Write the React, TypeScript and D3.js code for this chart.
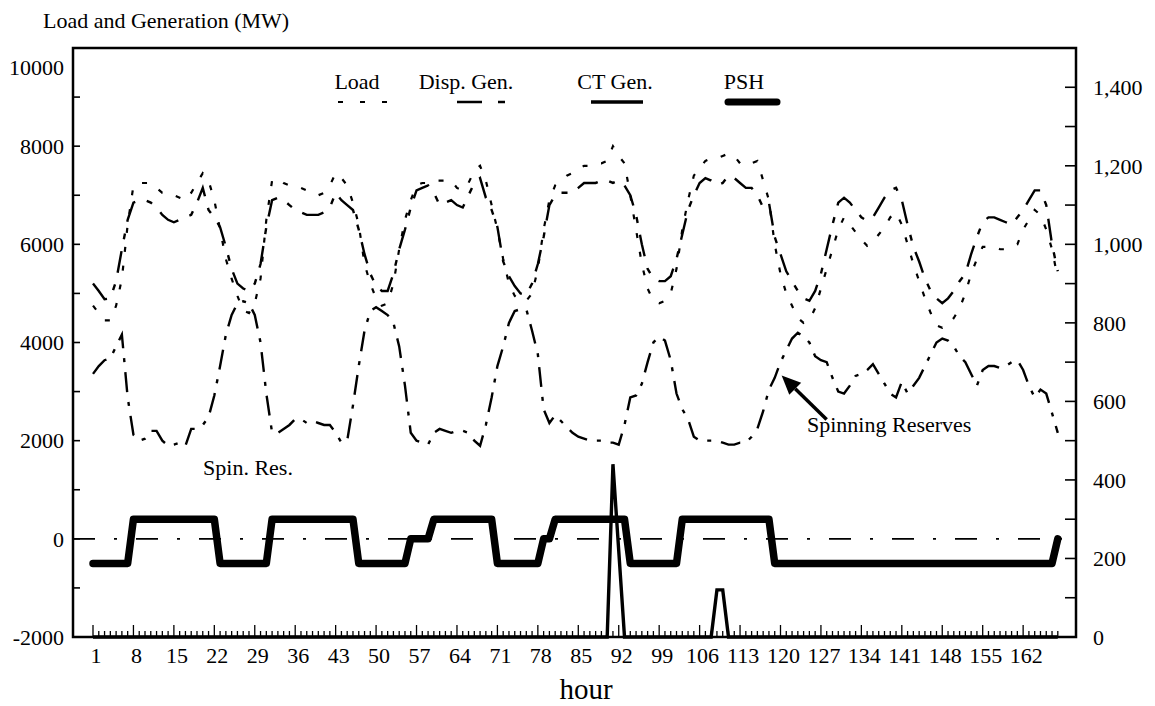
import React, { useEffect, useRef } from "react";
import * as d3 from "d3";

// Hourly series for one week (hours 1..168)
const hours: number[] = d3.range(1, 169);

// System load, MW (left axis)
const load: number[] = [
  4750, 4600, 4450, 4450, 4750, 5300, 6400, 7200, 7250, 7250, 7250, 7150, 7050, 7050, 7000, 6950, 6900, 7050, 7250, 7450, 7300, 6900, 6300, 5700,
  5300, 4950, 4650, 4600, 4800, 5300, 6500, 7300, 7350, 7250, 7200, 7150, 7150, 7100, 7050, 7000, 7050, 7200, 7450, 7350, 7200, 6850, 6400, 5600,
  5200, 4900, 4750, 4800, 5200, 5900, 6500, 6900, 7200, 7250, 7250, 7300, 7300, 7300, 7300, 7150, 7100, 7250, 7500, 7600, 7300, 6800, 6300, 5700,
  5200, 4950, 4850, 4850, 5000, 5500, 6300, 6900, 7200, 7300, 7400, 7450, 7550, 7600, 7600, 7650, 7650, 7700, 8000, 7800, 7650, 7000, 6300, 5600,
  5100, 4850, 4800, 4850, 5000, 5500, 6300, 6900, 7400, 7550, 7700, 7750, 7750, 7800, 7850, 7800, 7650, 7600, 7650, 7700, 7300, 6900, 6000, 5400,
  5000, 4750, 4500, 4400, 4450, 4700, 5100, 5500, 5900, 6300, 6550, 6400, 6250, 6100, 5970, 6050, 6200, 6350, 6550, 6650, 6400, 6000, 5600, 5250,
  4900, 4600, 4350, 4300, 4350, 4500, 4700, 5000, 5400, 5700, 5950, 5950, 5950, 5900, 5900, 5950, 6000, 6300, 6500, 6700, 6600, 6300, 5900, 5300,
];

// Dispatchable generation, MW (left axis)
const dispGen: number[] = [
  5200, 5050, 4880, 4900, 5250, 5900, 6500, 6850, 6900, 6900, 6850, 6750, 6600, 6500, 6450, 6500, 6550, 6600, 6850, 7150, 6700, 6550, 6350, 5950,
  5500, 5200, 5100, 5050, 5200, 5600, 6350, 6900, 6950, 6900, 6800, 6700, 6650, 6600, 6600, 6600, 6650, 6750, 7050, 6900, 6800, 6700, 6300, 5800,
  5400, 5150, 5050, 5050, 5400, 5900, 6300, 6750, 7100, 7150, 7200, 7050, 6800, 6850, 6900, 6800, 6750, 7000, 7250, 7350, 6950, 6700, 6350, 5650,
  5350, 5150, 5000, 4970, 5200, 5600, 6150, 6800, 7000, 7050, 7050, 7050, 7150, 7250, 7250, 7250, 7300, 7300, 7250, 7300, 7200, 7000, 6600, 6000,
  5500, 5300, 5250, 5250, 5350, 5700, 6200, 6700, 7000, 7250, 7350, 7300, 7200, 7250, 7400, 7350, 7250, 7150, 7150, 7000, 6750, 6850, 6150, 5800,
  5450, 5250, 5050, 4900, 4850, 5050, 5400, 5900, 6400, 6850, 6950, 6850, 6700, 6550, 6480, 6550, 6750, 6950, 7100, 7150, 6900, 6400, 5950, 5650,
  5300, 5050, 4900, 4800, 4900, 5050, 5250, 5400, 5800, 6150, 6450, 6550, 6550, 6500, 6450, 6400, 6550, 6700, 6900, 7100, 7100, 6800, 6000, 5450,
];

// Spinning reserves, MW (right axis)
const spinRes: number[] = [
  670, 690, 705, 710, 740, 770, 610, 515, 500, 505, 525, 525, 500, 487, 490, 495, 487, 530, 530, 540, 560, 615, 690, 770,
  820, 850, 855, 850, 820, 750, 620, 520, 520, 530, 540, 555, 555, 545, 550, 545, 540, 540, 520, 495, 500, 590, 690, 780,
  830, 840, 830, 820, 800, 740, 640, 520, 500, 495, 490, 520, 530, 525, 520, 525, 525, 520, 500, 487, 540, 610, 690, 740,
  800, 830, 835, 835, 780, 720, 580, 545, 565, 550, 535, 520, 510, 505, 500, 500, 500, 495, 495, 490, 540, 610, 615, 645,
  700, 750, 765, 755, 705, 620, 580, 555, 510, 500, 500, 500, 500, 495, 490, 490, 495, 495, 510, 530, 575, 630, 660, 700,
  730, 760, 775, 765, 750, 715, 705, 700, 660, 625, 620, 640, 665, 670, 680, 695, 670, 645, 620, 610, 650, 620, 640, 660,
  690, 720, 750, 760, 755, 740, 715, 700, 670, 640, 680, 690, 690, 685, 690, 700, 705, 680, 640, 610, 630, 620, 570, 520,
];

// Combustion-turbine generation, MW (right axis)
const ctGen: number[] = [
  0, 0, 0, 0, 0, 0, 0, 0, 0, 0, 0, 0, 0, 0, 0, 0, 0, 0, 0, 0, 0, 0, 0, 0,
  0, 0, 0, 0, 0, 0, 0, 0, 0, 0, 0, 0, 0, 0, 0, 0, 0, 0, 0, 0, 0, 0, 0, 0,
  0, 0, 0, 0, 0, 0, 0, 0, 0, 0, 0, 0, 0, 0, 0, 0, 0, 0, 0, 0, 0, 0, 0, 0,
  0, 0, 0, 0, 0, 0, 0, 0, 0, 0, 0, 0, 0, 0, 0, 0, 0, 0, 440, 220, 0, 0, 0, 0,
  0, 0, 0, 0, 0, 0, 0, 0, 0, 0, 0, 0, 120, 120, 0, 0, 0, 0, 0, 0, 0, 0, 0, 0,
  0, 0, 0, 0, 0, 0, 0, 0, 0, 0, 0, 0, 0, 0, 0, 0, 0, 0, 0, 0, 0, 0, 0, 0,
  0, 0, 0, 0, 0, 0, 0, 0, 0, 0, 0, 0, 0, 0, 0, 0, 0, 0, 0, 0, 0, 0, 0, 0,
];

// Pumped-storage hydro, MW (left axis; negative = pumping)
const psh: number[] = [
  -500, -500, -500, -500, -500, -500, -500, 400, 400, 400, 400, 400, 400, 400, 400, 400, 400, 400, 400, 400, 400, 400, -500, -500,
  -500, -500, -500, -500, -500, -500, -500, 400, 400, 400, 400, 400, 400, 400, 400, 400, 400, 400, 400, 400, 400, 400, -500, -500,
  -500, -500, -500, -500, -500, -500, -500, 0, 0, 0, 0, 400, 400, 400, 400, 400, 400, 400, 400, 400, 400, 400, -500, -500,
  -500, -500, -500, -500, -500, -500, 0, 0, 400, 400, 400, 400, 400, 400, 400, 400, 400, 400, 400, 400, 400, -500, -500, -500,
  -500, -500, -500, -500, -500, -500, 400, 400, 400, 400, 400, 400, 400, 400, 400, 400, 400, 400, 400, 400, 400, 400, -500, -500,
  -500, -500, -500, -500, -500, -500, -500, -500, -500, -500, -500, -500, -500, -500, -500, -500, -500, -500, -500, -500, -500, -500, -500, -500,
  -500, -500, -500, -500, -500, -500, -500, -500, -500, -500, -500, -500, -500, -500, -500, -500, -500, -500, -500, -500, -500, -500, -500, 0,
];

const leftTicks: number[] = d3.range(-2000, 10001, 1000);
const leftLabels: number[] = [-2000, 0, 2000, 4000, 6000, 8000, 10000];
const rightTicks: number[] = d3.range(0, 1501, 100);
const rightLabels: number[] = [0, 200, 400, 600, 800, 1000, 1200, 1400];
const hourLabels: number[] = [1, 8, 15, 22, 29, 36, 43, 50, 57, 64, 71, 78, 85, 92, 99, 106, 113, 120, 127, 134, 141, 148, 155, 162];

const FONT = "'Liberation Serif', 'Times New Roman', Times, serif";

export default function App() {
  const ref = useRef<SVGSVGElement | null>(null);

  useEffect(() => {
    const svg = d3.select(ref.current);
    svg.selectAll("*").remove();

    const left = 73, right = 1076, top = 48, bottom = 637;

    const x = d3.scaleLinear().domain([1, 168]).range([93, 1057.8]);
    const yL = d3.scaleLinear().domain([-2000, 10000]).range([bottom, top]);
    const yR = d3.scaleLinear().domain([0, 1500]).range([bottom, top]);

    svg.append("rect").attr("width", 1155).attr("height", 706).attr("fill", "#fff");

    // frame
    svg.append("rect")
      .attr("x", left).attr("y", top)
      .attr("width", right - left).attr("height", bottom - top)
      .attr("fill", "none").attr("stroke", "#000").attr("stroke-width", 2.5);

    // left axis ticks (inward)
    svg.append("g").selectAll("line").data(leftTicks).join("line")
      .attr("x1", left).attr("x2", left + 7)
      .attr("y1", (d) => yL(d)).attr("y2", (d) => yL(d))
      .attr("stroke", "#000").attr("stroke-width", 1.6);

    svg.append("g").selectAll("text").data(leftLabels).join("text")
      .attr("x", 64)
      .attr("y", (d) => (d === 10000 ? yL(d) + 19 : yL(d)))
      .attr("dy", "0.35em")
      .attr("text-anchor", "end")
      .attr("font-family", FONT).attr("font-size", 22)
      .text((d) => String(d));

    // right axis ticks (inward)
    svg.append("g").selectAll("line").data(rightTicks).join("line")
      .attr("x1", right - 11).attr("x2", right)
      .attr("y1", (d) => yR(d)).attr("y2", (d) => yR(d))
      .attr("stroke", "#000").attr("stroke-width", 1.6);

    const fmt = d3.format(",");
    svg.append("g").selectAll("text").data(rightLabels).join("text")
      .attr("x", 1093)
      .attr("y", (d) => yR(d))
      .attr("dy", "0.35em")
      .attr("font-family", FONT).attr("font-size", 22)
      .text((d) => fmt(d));

    // hour ticks (inward)
    svg.append("g").selectAll("line").data(hours).join("line")
      .attr("x1", (d) => x(d)).attr("x2", (d) => x(d))
      .attr("y1", bottom).attr("y2", (d) => ((d - 1) % 7 === 0 ? bottom - 12 : bottom - 6))
      .attr("stroke", "#000").attr("stroke-width", 1.3);

    svg.append("g").selectAll("text").data(hourLabels).join("text")
      .attr("x", (d) => x(d) + 3)
      .attr("y", 663)
      .attr("text-anchor", "middle")
      .attr("font-family", FONT).attr("font-size", 22)
      .text((d) => String(d));

    // zero reference line
    svg.append("line")
      .attr("x1", left).attr("x2", 1062)
      .attr("y1", yL(0)).attr("y2", yL(0))
      .attr("stroke", "#000").attr("stroke-width", 1.8)
      .attr("stroke-dasharray", "22,19,3,19");

    const lineL = d3.line<number>().x((_, i) => x(hours[i])).y((d) => yL(d));
    const lineR = d3.line<number>().x((_, i) => x(hours[i])).y((d) => yR(d));

    // spinning reserves
    svg.append("path").datum(spinRes).attr("d", lineR)
      .attr("fill", "none").attr("stroke", "#000").attr("stroke-width", 2.4)
      .attr("stroke-dasharray", "20,10,4,10");

    // dispatchable generation
    svg.append("path").datum(dispGen).attr("d", lineL)
      .attr("fill", "none").attr("stroke", "#000").attr("stroke-width", 2.4)
      .attr("stroke-dasharray", "22,12,6,12");

    // load
    svg.append("path").datum(load).attr("d", lineL)
      .attr("fill", "none").attr("stroke", "#000").attr("stroke-width", 2.2)
      .attr("stroke-dasharray", "5,14");

    // CT generation
    svg.append("path").datum(ctGen).attr("d", lineR)
      .attr("fill", "none").attr("stroke", "#000").attr("stroke-width", 3.4)
      .attr("stroke-linejoin", "miter");

    // pumped storage
    svg.append("path").datum(psh).attr("d", lineL)
      .attr("fill", "none").attr("stroke", "#000").attr("stroke-width", 7.5)
      .attr("stroke-linejoin", "round").attr("stroke-linecap", "round");

    // legend
    const legY = 102;
    const legend = [
      { label: "Load", cx: 357, x1: 338, x2: 387, w: 2.2, dash: "5,17", cap: "butt" },
      { label: "Disp. Gen.", cx: 466, x1: 457, x2: 505, w: 2.4, dash: "25,16,7,16", cap: "butt" },
      { label: "CT Gen.", cx: 615, x1: 591, x2: 643, w: 3.6, dash: "none", cap: "butt" },
      { label: "PSH", cx: 744, x1: 728, x2: 777, w: 7, dash: "none", cap: "round" },
    ];
    legend.forEach((e) => {
      svg.append("text").attr("x", e.cx).attr("y", 89)
        .attr("text-anchor", "middle")
        .attr("font-family", FONT).attr("font-size", 22)
        .text(e.label);
      svg.append("line").attr("x1", e.x1).attr("x2", e.x2)
        .attr("y1", legY).attr("y2", legY)
        .attr("stroke", "#000").attr("stroke-width", e.w)
        .attr("stroke-dasharray", e.dash)
        .attr("stroke-linecap", e.cap);
    });

    // titles and annotations
    svg.append("text").attr("x", 43).attr("y", 28)
      .attr("font-family", FONT).attr("font-size", 22)
      .text("Load and Generation (MW)");

    svg.append("text").attr("x", 248).attr("y", 475)
      .attr("text-anchor", "middle")
      .attr("font-family", FONT).attr("font-size", 22)
      .text("Spin. Res.");

    svg.append("text").attr("x", 807).attr("y", 432)
      .attr("font-family", FONT).attr("font-size", 22)
      .text("Spinning Reserves");

    svg.append("text").attr("x", 586).attr("y", 699)
      .attr("text-anchor", "middle")
      .attr("font-family", FONT).attr("font-size", 29)
      .text("hour");

    // arrow pointing at the spinning-reserve curve
    const tipX = x(120.2), tipY = yR(666);
    const tailX = tipX + 45, tailY = tipY + 44;
    const ux = (tailX - tipX) / Math.hypot(tailX - tipX, tailY - tipY);
    const uy = (tailY - tipY) / Math.hypot(tailX - tipX, tailY - tipY);
    const hl = 19, hw = 8.5;
    const bx = tipX + ux * hl, by = tipY + uy * hl;
    svg.append("line")
      .attr("x1", bx).attr("y1", by).attr("x2", tailX).attr("y2", tailY)
      .attr("stroke", "#000").attr("stroke-width", 3.5);
    svg.append("polygon")
      .attr("points", [
        [tipX, tipY],
        [bx - uy * hw, by + ux * hw],
        [bx + uy * hw, by - ux * hw],
      ].map((p) => p.join(",")).join(" "))
      .attr("fill", "#000");
  }, []);

  return (
    <svg
      ref={ref}
      width={1155}
      height={706}
      style={{ position: "absolute", left: 0, top: 0, display: "block" }}
    />
  );
}
